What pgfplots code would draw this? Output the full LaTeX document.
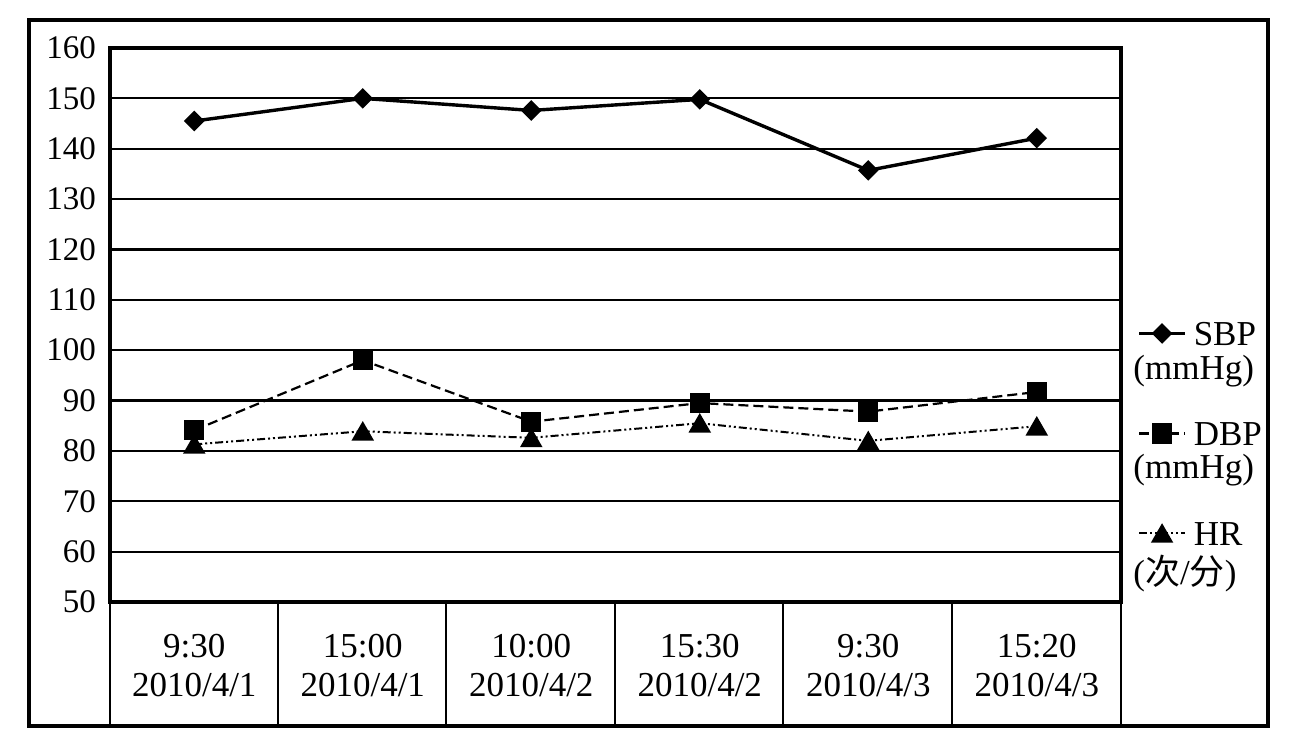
\documentclass[border=0pt]{standalone}
\usepackage{fontspec}
\setmainfont{Liberation Serif}
\newfontfamily\cjk{Noto Sans CJK SC}
\usepackage{pgfplots}
\pgfplotsset{compat=1.18}
\begin{document}
\fontsize{17.5}{19.5}\selectfont
\begin{tikzpicture}
\useasboundingbox (0,0) rectangle (654.5pt,375.5pt);
\begin{axis}[
    at={(55pt,74.5pt)}, anchor=south west,
    scale only axis, width=505.5pt, height=277pt,
    xmin=-0.5, xmax=5.5, ymin=50, ymax=160,
    ytick={50,60,...,160},
    xtick={0,...,5},
    xticklabels={{9:30\\2010/4/1},{15:00\\2010/4/1},{10:00\\2010/4/2},
                 {15:30\\2010/4/2},{9:30\\2010/4/3},{15:20\\2010/4/3}},
    xticklabel style={align=center, yshift=-10pt},
    yticklabel style={xshift=-1pt, font=\fontsize{16.5}{18}\selectfont},
    major tick length=0pt,
    ymajorgrids, grid style={black, line width=1.1pt},
    axis line style={line width=1.6pt},
    /pgf/number format/assume math mode=true,
    legend style={at={(1.0158,0.5144)}, anchor=north west, draw=none, fill=none,
        inner sep=0pt, row sep=34pt, column sep=3.5pt,
        nodes={inner sep=0pt, text height=14pt, text depth=2pt,
               font=\fontsize{17.5}{19.5}\selectfont}},
    legend cell align=left,
    legend image code/.code={\draw[mark repeat=2,mark phase=2,#1]
        plot coordinates {(0pt,0pt)(11.5pt,0pt)(23pt,0pt)};},
]
\addplot[black, line width=1.7pt, mark=square*, mark size=2.8pt,
    mark options={solid, rotate=45}]
    coordinates {(0,145.5) (1,150.0) (2,147.6) (3,149.8) (4,135.7) (5,142.1)};
\addlegendentry{SBP}
\addplot[black, line width=1.1pt, dash pattern=on 5pt off 2.5pt,
    mark=square*, mark size=4.5pt, mark options={solid}]
    coordinates {(0,84.1) (1,98.0) (2,85.8) (3,89.5) (4,87.8) (5,91.7)};
\addlegendentry{DBP}
\addplot[black, line width=1pt,
    dash pattern=on 4pt off 1.5pt on 1pt off 1.5pt on 1pt off 1.5pt,
    mark=triangle*, mark size=5.5pt, mark options={solid, yshift=-1.4pt}]
    coordinates {(0,81.3) (1,83.9) (2,82.6) (3,85.5) (4,82.0) (5,84.9)};
\addlegendentry{HR}
\end{axis}
\begin{scope}[x=0.5pt, y=-0.5pt, shift={(0pt,375.5pt)}]
  \draw[line width=1.6pt] (29,20) rectangle (1268,726);
  \foreach \xx in {110,278,446,615,783,952,1121}
    \draw[line width=1.4pt] (\xx,602) -- (\xx,726);
  \node[anchor=base west, inner sep=0pt] at (1133,379) {(mmHg)};
  \node[anchor=base west, inner sep=0pt] at (1133,478) {(mmHg)};
  \node[anchor=base west, inner sep=0pt] at (1133,584) {({\cjk 次}/{\cjk 分})};
\end{scope}
\end{tikzpicture}
\end{document}
